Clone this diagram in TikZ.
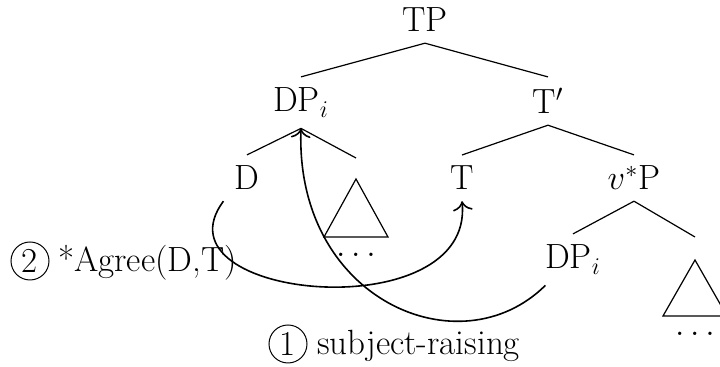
\documentclass[tikz,border=0pt]{standalone}
\usepackage{fontspec}
\usetikzlibrary{arrows.meta}
\begin{document}
\begin{tikzpicture}[x=0.5pt, y=-0.5pt, line width=0.6pt,
  lbl/.style={anchor=base, inner sep=5.3pt, font=\fontsize{17.5}{21}\selectfont},
  num/.style={draw, circle, inner sep=0pt, minimum size=19pt, line width=0.5pt, font=\fontsize{17.5}{21}\selectfont},
  move/.style={-{To[scale=1.4]}, line width=0.8pt}]
  \clip (0,0) rectangle (720,367);
  \node[lbl] (tp) at (425,32) {TP};
  \node[lbl] (dpi) at (301,112) {DP$_i$};
  \node[lbl] (tbar) at (548,114) {T$'$};
  \node[lbl] (d) at (247,190) {D};
  \node[lbl] (t) at (462,190) {T};
  \node[lbl] (vp) at (634,190) {$v^*$P};
  \node[lbl] (dpl) at (573,269) {DP$_i$};
  \coordinate (e1) at (356,158);
  \coordinate (e2) at (695,237);
  \draw (tp.south) -- (dpi.north);
  \draw (tp.south) -- (tbar.north);
  \draw (dpi.south) -- (d.north);
  \draw (dpi.south) -- (e1);
  \draw (tbar.south) -- (t.north);
  \draw (tbar.south) -- (vp.north);
  \draw (vp.south) -- (dpl.north);
  \draw (vp.south) -- (e2);
  \draw (356,179) -- (324,237) -- (388,237) -- cycle;
  \node[lbl] (dots1) at (356,257) {$\ldots$};
  \draw (695,260) -- (663,316) -- (727,316) -- cycle;
  \node[lbl] (dots2) at (695,336) {$\ldots$};
  \draw[move] (dpl.-137) .. controls (460,370) and (295,300) .. (dpi.south);
  \draw[move] (d.south west) .. controls (150,300) and (475,330) .. (t.south);
  \node[num] (n2) at (30,261) {2};
  \node[lbl, anchor=base west] (agree) at (47,272) {*Agree(D,T)};
  \node[num] (n1) at (288,344) {1};
  \node[lbl, anchor=base west] (raise) at (306,355) {subject-raising};
\end{tikzpicture}
\end{document}
